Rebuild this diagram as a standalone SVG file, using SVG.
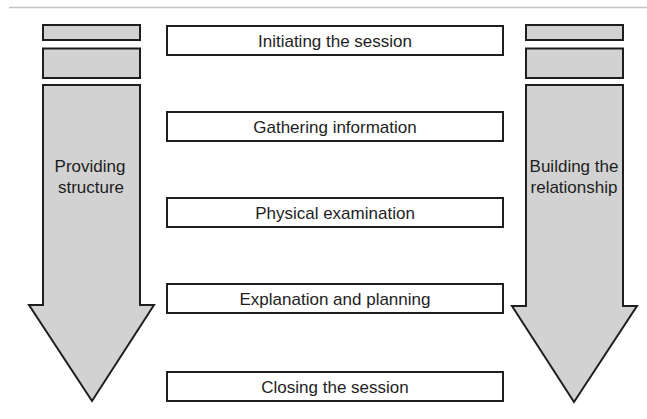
<svg xmlns="http://www.w3.org/2000/svg" width="647" height="419" viewBox="0 0 647 419">
<style>
.g{fill:#d2d2d2;stroke:#1e1e1e;stroke-width:2}
.b{fill:#fff;stroke:#1e1e1e;stroke-width:2}
text{font-family:"Liberation Sans",Arial,sans-serif;font-size:17px;fill:#1e1e1e;text-anchor:middle}
</style>
<rect width="647" height="419" fill="#fff"/>
<line x1="9" y1="7.5" x2="647" y2="7.5" stroke="#c4c4c4" stroke-width="1.5"/>
<g id="left">
<rect class="g" x="43" y="25" width="97" height="15"/>
<rect class="g" x="43" y="48.5" width="97" height="29.5"/>
<polygon class="g" points="43,85 140,85 140,305 154,305 92,401 29,305 43,305"/>
<text x="90" y="172">Providing</text>
<text x="91" y="193">structure</text>
</g>
<g id="right">
<rect class="g" x="526" y="25" width="97" height="15"/>
<rect class="g" x="526" y="48.5" width="97" height="29.5"/>
<polygon class="g" points="526,85 623,85 623,306 637,306 574,402 512,306 526,306"/>
<text x="574" y="172">Building the</text>
<text x="574" y="193">relationship</text>
</g>
<g id="n1"><rect class="b" x="167" y="26" width="336" height="29"/><text x="335" y="47">Initiating the session</text></g>
<g id="n2"><rect class="b" x="167" y="112" width="336" height="29"/><text x="335" y="133">Gathering information</text></g>
<g id="n3"><rect class="b" x="167" y="198" width="336" height="29"/><text x="335" y="219">Physical examination</text></g>
<g id="n4"><rect class="b" x="167" y="284" width="336" height="29"/><text x="335" y="305">Explanation and planning</text></g>
<g id="n5"><rect class="b" x="167" y="372" width="336" height="29"/><text x="335" y="393">Closing the session</text></g>
<g id="connectors"></g>
</svg>
